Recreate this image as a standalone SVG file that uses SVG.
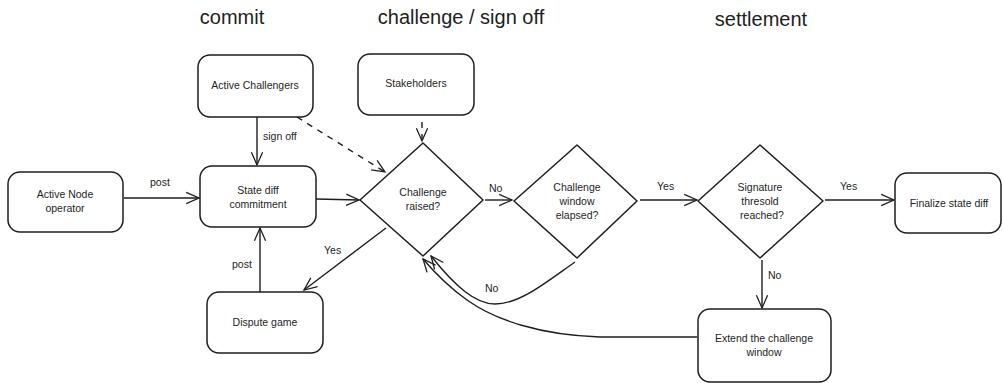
<svg xmlns="http://www.w3.org/2000/svg" width="1003" height="383" viewBox="0 0 1003 383">
<style>
.n{fill:#fff;stroke:#1e1e1e;stroke-width:1.5}
.t{font-family:"Liberation Sans",Arial,sans-serif;font-size:10.5px;fill:#1e1e1e;text-anchor:middle}
.h{font-family:"Liberation Sans",Arial,sans-serif;font-size:20px;fill:#1e1e1e;text-anchor:middle}
.c{fill:none;stroke:#1e1e1e;stroke-width:1.4}
.d{stroke-dasharray:6 6}
.l{font-family:"Liberation Sans",Arial,sans-serif;font-size:10.5px;fill:#1e1e1e}
</style>
<defs>
<marker id="a" viewBox="0 0 20 20" refX="18" refY="10" markerWidth="16" markerHeight="16" markerUnits="userSpaceOnUse" orient="auto">
<path d="M2 3 L18 10 L2 17" fill="none" stroke="#1e1e1e" stroke-width="1.6"/>
</marker>
</defs>
<rect width="1003" height="383" fill="#fff"/>
<text class="h" x="232" y="24">commit</text>
<text class="h" x="461" y="24">challenge / sign off</text>
<text class="h" x="761" y="26">settlement</text>

<g id="connectors">
<path class="c" d="M124 198 L199 198" marker-end="url(#a)"/>
<path class="c" d="M257 117 L257 165" marker-end="url(#a)"/>
<path class="c d" d="M297 117 L385 172" marker-end="url(#a)"/>
<path class="c d" d="M422 122 L422 141" marker-end="url(#a)"/>
<path class="c" d="M316 199 L359 200" marker-end="url(#a)"/>
<path class="c" d="M260 292 L260 228" marker-end="url(#a)"/>
<path class="c" d="M386 228 L304 290" marker-end="url(#a)"/>
<path class="c" d="M485 200 L512 200" marker-end="url(#a)"/>
<path class="c" d="M640 200 L697 200" marker-end="url(#a)"/>
<path class="c" d="M825 200 L894 200" marker-end="url(#a)"/>
<path class="c" d="M762 260 L762 308" marker-end="url(#a)"/>
<path class="c" d="M575 262 C545 283 520 304 495 304 C475 304 455 286 431 256" marker-end="url(#a)"/>
<path class="c" d="M697 337 L600 337 C540 335 495 320 467 300 C450 288 435 273 423 259" marker-end="url(#a)"/>
<text class="l" x="150" y="186">post</text>
<text class="l" x="263" y="140">sign off</text>
<text class="l" x="232" y="268">post</text>
<text class="l" x="324" y="254">Yes</text>
<text class="l" x="489" y="192">No</text>
<text class="l" x="657" y="190">Yes</text>
<text class="l" x="840" y="190">Yes</text>
<text class="l" x="768" y="279">No</text>
<text class="l" x="485" y="292">No</text>
</g>

<g id="active-node-operator">
<rect class="n" x="8" y="172" width="115" height="60" rx="12"/>
<text class="t" x="65" y="198">Active Node</text>
<text class="t" x="65" y="212">operator</text>
</g>
<g id="state-diff-commitment">
<rect class="n" x="200" y="166" width="116" height="61" rx="12"/>
<text class="t" x="258" y="194">State diff</text>
<text class="t" x="258" y="208">commitment</text>
</g>
<g id="active-challengers">
<rect class="n" x="198" y="55" width="115" height="62" rx="12"/>
<text class="t" x="255" y="89">Active Challengers</text>
</g>
<g id="stakeholders">
<rect class="n" x="358" y="54" width="116" height="61" rx="12"/>
<text class="t" x="416" y="87">Stakeholders</text>
</g>
<g id="challenge-raised">
<path class="n" d="M423 143 L483 200 L423 256 L360 200 Z" stroke-linejoin="round"/>
<text class="t" x="423" y="196">Challenge</text>
<text class="t" x="423" y="210">raised?</text>
</g>
<g id="challenge-window-elapsed">
<path class="n" d="M577 145 L637 201 L577 258 L514 201 Z" stroke-linejoin="round"/>
<text class="t" x="577" y="191">Challenge</text>
<text class="t" x="577" y="205">window</text>
<text class="t" x="577" y="219">elapsed?</text>
</g>
<g id="signature-threshold">
<path class="n" d="M760 145 L823 201 L760 258 L698 201 Z" stroke-linejoin="round"/>
<text class="t" x="760" y="191">Signature</text>
<text class="t" x="760" y="205">thresold</text>
<text class="t" x="762" y="219">reached?</text>
</g>
<g id="finalize-state-diff">
<rect class="n" x="895" y="173" width="106" height="60" rx="12"/>
<text class="t" x="949" y="207">Finalize state diff</text>
</g>
<g id="dispute-game">
<rect class="n" x="207" y="292" width="116" height="61" rx="12"/>
<text class="t" x="265" y="326">Dispute game</text>
</g>
<g id="extend-window">
<rect class="n" x="698" y="309" width="133" height="73" rx="12"/>
<text class="t" x="764" y="342">Extend the challenge</text>
<text class="t" x="764" y="356">window</text>
</g>
</svg>
